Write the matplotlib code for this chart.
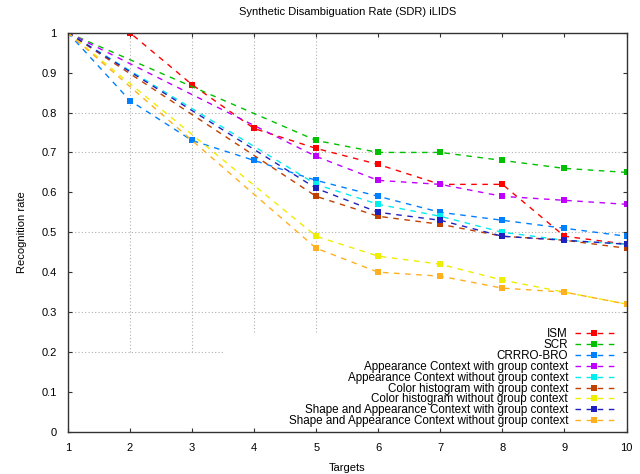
import matplotlib
matplotlib.use("Agg")
import matplotlib.pyplot as plt

plt.rcParams['font.family'] = ['Liberation Sans', 'DejaVu Sans']

# ----- data -----
targets = [1, 2, 3, 4, 5, 6, 7, 8, 9, 10]
targets_sparse = [1, 5, 6, 7, 8, 9, 10]

ism = [1.0, 1.0, 0.87, 0.76, 0.71, 0.67, 0.62, 0.62, 0.49, 0.47]
crrro_bro = [1.0, 0.83, 0.73, 0.68, 0.63, 0.59, 0.55, 0.53, 0.51, 0.49]
scr = [1.0, 0.73, 0.70, 0.70, 0.68, 0.66, 0.65]
app_with = [1.0, 0.69, 0.63, 0.62, 0.59, 0.58, 0.57]
app_without = [1.0, 0.62, 0.57, 0.54, 0.50, 0.48, 0.47]
hist_with = [1.0, 0.59, 0.54, 0.52, 0.49, 0.48, 0.46]
hist_without = [1.0, 0.49, 0.44, 0.42, 0.38, 0.35, 0.32]
shape_with = [1.0, 0.61, 0.55, 0.53, 0.49, 0.48, 0.47]
shape_without = [1.0, 0.46, 0.40, 0.39, 0.36, 0.35, 0.32]

series = [
    ("ISM", targets, ism, "#ff0000"),
    ("SCR", targets_sparse, scr, "#00c000"),
    ("CRRRO-BRO", targets, crrro_bro, "#0080ff"),
    ("Appearance Context with group context", targets_sparse, app_with, "#c000ff"),
    ("Appearance Context without group context", targets_sparse, app_without, "#00eeee"),
    ("Color histogram with group context", targets_sparse, hist_with, "#c04000"),
    ("Color histogram without group context", targets_sparse, hist_without, "#eeee00"),
    ("Shape and Appearance Context with group context", targets_sparse, shape_with, "#2020c0"),
    ("Shape and Appearance Context without group context", targets_sparse, shape_without, "#ffb020"),
]

# ----- partial grid as seen in the reference -----
grid_y = [0.8, 0.7, 0.5, 0.3]
grid_x_long = [2, 3]
grid_x_short = [4, 5]

fig = plt.figure(figsize=(6.4, 4.74), dpi=100)
ax = fig.add_axes([0.106, 0.089, 0.873, 0.842])

for gy in grid_y:
    ax.axhline(gy, color="#b0b0b0", lw=0.8, ls=(0, (1, 2)), zorder=0)
ax.hlines(0.2, 1, 3.5, color="#b0b0b0", lw=0.8, ls=(0, (1, 2)), zorder=0)
ax.vlines(grid_x_long, 0.2, 1, color="#b0b0b0", lw=0.8, ls=(0, (1, 2)), zorder=0)
ax.vlines(grid_x_short, 0.25, 1, color="#b0b0b0", lw=0.8, ls=(0, (1, 2)), zorder=0)

for name, xs, ys, col in series:
    ax.plot(xs, ys, color=col, lw=1.0, ls=(0, (4, 4)), marker="s", ms=4,
            markeredgewidth=0, label=name)

ax.set_xlim(1, 10)
ax.set_ylim(0, 1)
ax.set_xticks(range(1, 11))
ax.set_yticks([i / 10 for i in range(11)])
ax.set_yticklabels(["0", "0.1", "0.2", "0.3", "0.4", "0.5", "0.6", "0.7", "0.8", "0.9", "1"])
ax.tick_params(direction="in", length=3, width=0.8, labelsize=8, top=True, right=True,
               pad=8, colors="#333333", labelcolor="black")
for s in ax.spines.values():
    s.set_linewidth(1.0)
    s.set_color("#333333")

ax.set_title("Synthetic Disambiguation Rate (SDR) iLIDS", fontsize=8, pad=13)
ax.set_xlabel("Targets", fontsize=8, labelpad=7)
ax.set_ylabel("Recognition rate", fontsize=8, labelpad=10)

leg = ax.legend(loc="lower right", markerfirst=False, frameon=False, fontsize=8.4,
                handlelength=3.3, labelspacing=-0.1, handletextpad=0.6,
                borderaxespad=0.0, bbox_to_anchor=(0.985, 0.0))
for t in leg.get_texts():
    t.set_horizontalalignment("right")
leg._legend_box.align = "right"

fig.savefig("out.png", dpi=100)
